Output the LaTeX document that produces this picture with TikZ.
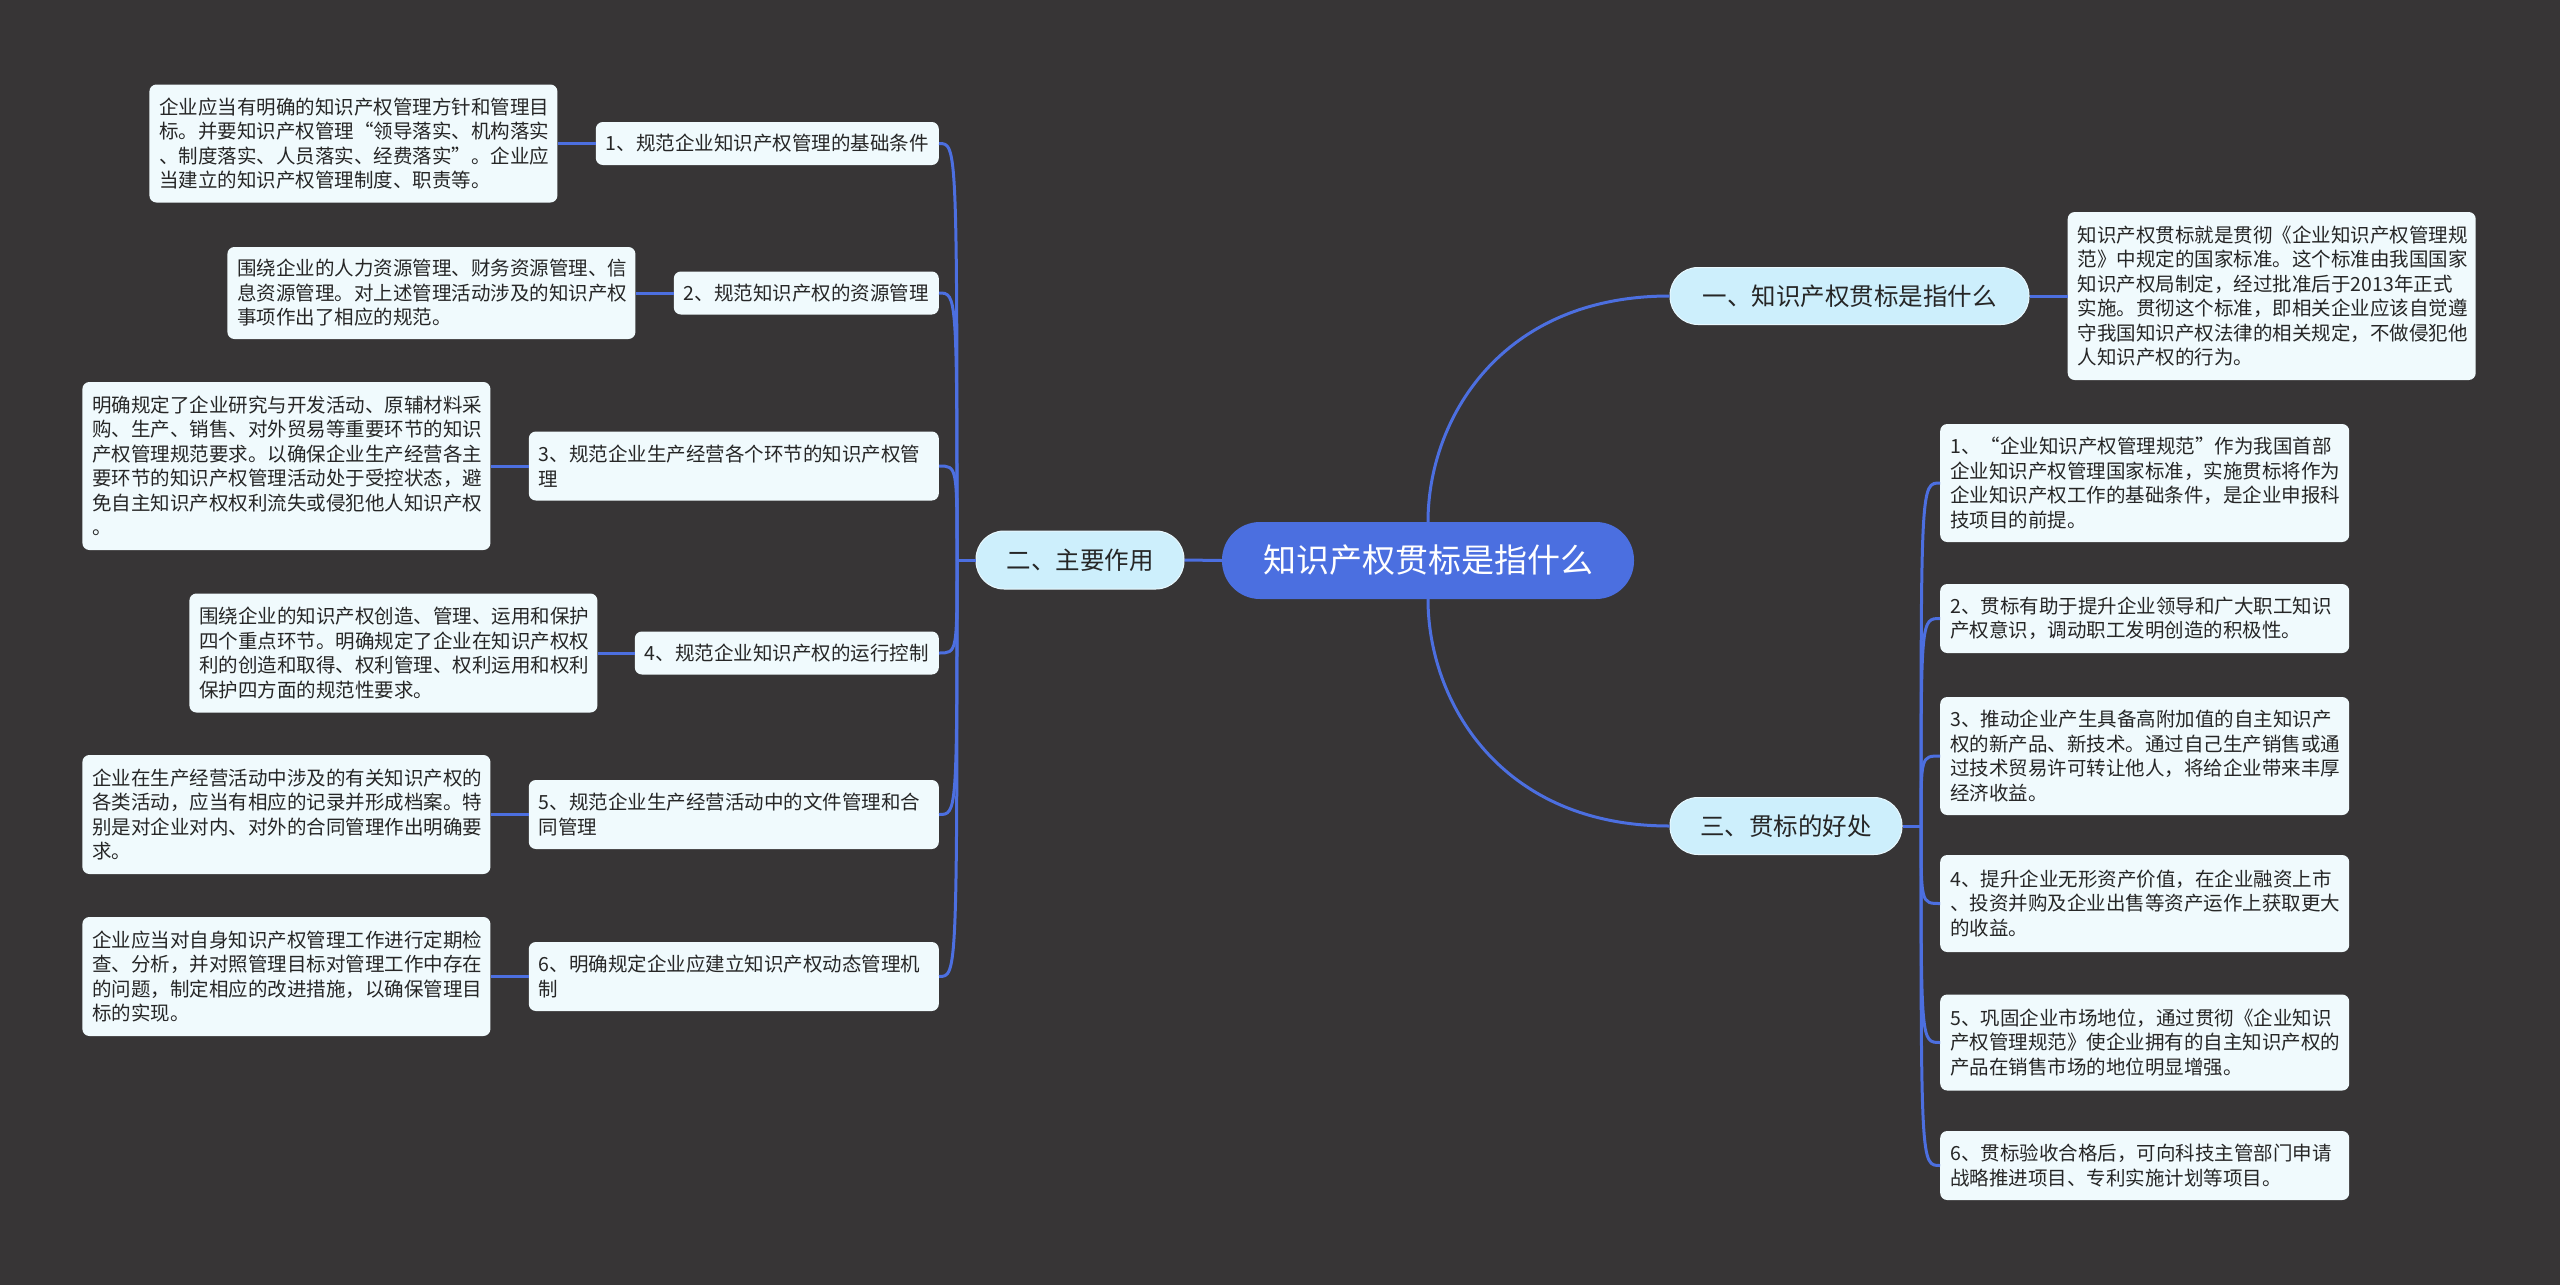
\documentclass[tikz,border=0pt]{standalone}
\usepackage{fontspec}
\setmainfont{Noto Sans CJK SC}
\definecolor{bgc}{HTML}{373536}
\definecolor{linec}{HTML}{4C6FE0}
\definecolor{rootc}{HTML}{4B6FE0}
\definecolor{mainc}{HTML}{CDEFFC}
\definecolor{leafc}{HTML}{F0FAFD}
\definecolor{txtc}{HTML}{262626}
\tikzset{
  leaf/.style={fill=leafc, rounded corners=7pt, inner xsep=10pt, inner ysep=0pt, align=left, text=txtc, font=\fontsize{19.5}{24.5}\selectfont},
  mainbox/.style={fill=mainc, draw=white!55!mainc, line width=1pt, rounded corners=28pt, text=txtc, font=\fontsize{24.5}{30}\selectfont, inner sep=0pt},
  rootbox/.style={fill=rootc, rounded corners=38pt, text=white, font=\fontsize{33}{40}\selectfont, inner sep=0pt},
  conn/.style={draw=linec, line width=3pt},
}
\begin{document}
\begin{tikzpicture}[x=1pt, y=-1pt]
\fill[bgc] (0,0) rectangle (2560,1285);
\useasboundingbox (0,0) rectangle (2560,1285);

% junctions
\coordinate (j2) at (957,560);
\coordinate (j3) at (1921,826);

% root and main branches
\node[rootbox, minimum width=412pt, minimum height=77pt] (root) at (1428,560.5) {知识产权贯标是指什么};
\node[mainbox, minimum width=208pt, minimum height=58pt] (b2) at (1080,560) {二、主要作用};
\node[mainbox, minimum width=359pt, minimum height=57pt] (b1) at (1849.5,296) {一、知识产权贯标是指什么};
\node[mainbox, minimum width=232pt, minimum height=57pt] (b3) at (1786,826) {三、贯标的好处};

% middle column (children of 二)
\node[leaf, anchor=east, text width=323pt, minimum height=43pt] (m1) at (939,143.5) {1、规范企业知识产权管理的基础条件};
\node[leaf, anchor=east, text width=245pt, minimum height=43pt] (m2) at (939,293) {2、规范知识产权的资源管理};
\node[leaf, anchor=east, text width=390pt, minimum height=69pt] (m3) at (939,466) {3、规范企业生产经营各个环节的知识产权管\\理};
\node[leaf, anchor=east, text width=284pt, minimum height=43pt] (m4) at (939,653) {4、规范企业知识产权的运行控制};
\node[leaf, anchor=east, text width=390pt, minimum height=69pt] (m5) at (939,814.5) {5、规范企业生产经营活动中的文件管理和合\\同管理};
\node[leaf, anchor=east, text width=390pt, minimum height=69pt] (m6) at (939,976.5) {6、明确规定企业应建立知识产权动态管理机\\制};

% leftmost leaves
\node[leaf, anchor=east, text width=388pt, minimum height=118pt] (l1) at ([xshift=-38pt]m1.west) {企业应当有明确的知识产权管理方针和管理目\\标。并要知识产权管理“领导落实、机构落实\\、制度落实、人员落实、经费落实”。企业应\\当建立的知识产权管理制度、职责等。};
\node[leaf, anchor=east, text width=388pt, minimum height=92pt] (l2) at ([xshift=-38pt]m2.west) {围绕企业的人力资源管理、财务资源管理、信\\息资源管理。对上述管理活动涉及的知识产权\\事项作出了相应的规范。};
\node[leaf, anchor=east, text width=388pt, minimum height=168pt] (l3) at ([xshift=-38pt]m3.west) {明确规定了企业研究与开发活动、原辅材料采\\购、生产、销售、对外贸易等重要环节的知识\\产权管理规范要求。以确保企业生产经营各主\\要环节的知识产权管理活动处于受控状态，避\\免自主知识产权权利流失或侵犯他人知识产权\\。};
\node[leaf, anchor=east, text width=388pt, minimum height=119pt] (l4) at ([xshift=-37pt]m4.west) {围绕企业的知识产权创造、管理、运用和保护\\四个重点环节。明确规定了企业在知识产权权\\利的创造和取得、权利管理、权利运用和权利\\保护四方面的规范性要求。};
\node[leaf, anchor=east, text width=388pt, minimum height=119pt] (l5) at ([xshift=-38pt]m5.west) {企业在生产经营活动中涉及的有关知识产权的\\各类活动，应当有相应的记录并形成档案。特\\别是对企业对内、对外的合同管理作出明确要\\求。};
\node[leaf, anchor=east, text width=388pt, minimum height=119pt] (l6) at ([xshift=-38pt]m6.west) {企业应当对自身知识产权管理工作进行定期检\\查、分析，并对照管理目标对管理工作中存在\\的问题，制定相应的改进措施，以确保管理目\\标的实现。};

% leaf of 一
\node[leaf, anchor=west, text width=388pt, minimum height=168pt] (r0) at ([xshift=38pt]b1.east) {知识产权贯标就是贯彻《企业知识产权管理规\\范》中规定的国家标准。这个标准由我国国家\\知识产权局制定，经过批准后于2013年正式\\实施。贯彻这个标准，即相关企业应该自觉遵\\守我国知识产权法律的相关规定，不做侵犯他\\人知识产权的行为。};

% leaves of 三
\node[leaf, anchor=west, text width=389pt, minimum height=118pt] (r1) at (1940,483) {1、“企业知识产权管理规范”作为我国首部\\企业知识产权管理国家标准，实施贯标将作为\\企业知识产权工作的基础条件，是企业申报科\\技项目的前提。};
\node[leaf, anchor=west, text width=389pt, minimum height=69pt] (r2) at (1940,618.5) {2、贯标有助于提升企业领导和广大职工知识\\产权意识，调动职工发明创造的积极性。};
\node[leaf, anchor=west, text width=389pt, minimum height=118pt] (r3) at (1940,756) {3、推动企业产生具备高附加值的自主知识产\\权的新产品、新技术。通过自己生产销售或通\\过技术贸易许可转让他人，将给企业带来丰厚\\经济收益。};
\node[leaf, anchor=west, text width=389pt, minimum height=97pt] (r4) at (1940,903.5) {4、提升企业无形资产价值，在企业融资上市\\、投资并购及企业出售等资产运作上获取更大\\的收益。};
\node[leaf, anchor=west, text width=389pt, minimum height=96pt] (r5) at (1940,1042.5) {5、巩固企业市场地位，通过贯彻《企业知识\\产权管理规范》使企业拥有的自主知识产权的\\产品在销售市场的地位明显增强。};
\node[leaf, anchor=west, text width=389pt, minimum height=69pt] (r6) at (1940,1165.5) {6、贯标验收合格后，可向科技主管部门申请\\战略推进项目、专利实施计划等项目。};

% connectors
\draw[conn] (root.west) -- (b2.east);
\draw[conn] (root.north) .. controls (1428,420) and (1500,296) .. (b1.west);
\draw[conn] (root.south) .. controls (1428,701) and (1500,826) .. (b3.west);
\draw[conn] (b2.west) -- (j2);
\foreach \m in {m1,m2,m3,m4,m5,m6}
  \draw[conn] (j2) .. controls (j2 |- \m.east) and (j2 |- \m.east) .. (\m.east);
\foreach \l/\m in {l1/m1,l2/m2,l3/m3,l4/m4,l5/m5,l6/m6}
  \draw[conn] (\l.east) -- (\m.west);
\draw[conn] (b1.east) -- (r0.west);
\draw[conn] (b3.east) -- (j3);
\foreach \r in {r1,r2,r3,r4,r5,r6}
  \draw[conn] (j3) .. controls (j3 |- \r.west) and (j3 |- \r.west) .. (\r.west);
\end{tikzpicture}
\end{document}
